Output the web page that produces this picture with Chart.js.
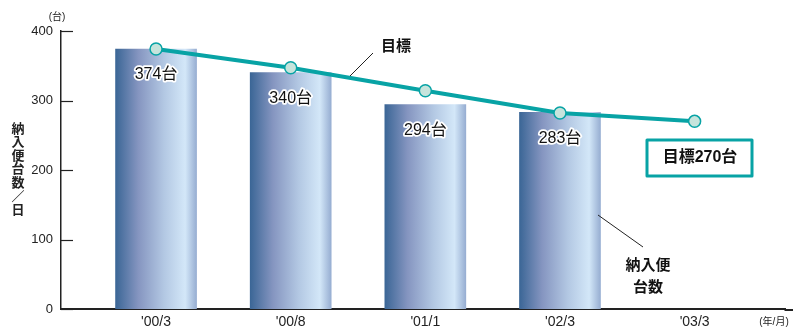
<!DOCTYPE html>
<html>
<head>
<meta charset="utf-8">
<script src="https://cdn.jsdelivr.net/npm/chart.js@4"></script>
<style>
html, body { margin: 0; padding: 0; background: #fff; }
#wrap { width: 793px; height: 335px; }
</style>
</head>
<body>
<div id="wrap"><canvas id="chart"></canvas></div>
<script>
// データ
const categories = ["'00/3", "'00/8", "'01/1", "'02/3", "'03/3"];
const actual = [374, 340, 294, 283, null];   // 納入便台数
const target = [374, 347, 314, 282, 270];    // 目標
const yTicks = [0, 100, 200, 300, 400];

const FONT = '"Liberation Sans", Arial, "Noto Sans CJK JP", sans-serif';
const TEAL = '#08a3a5';

// 棒のグラデーション
function barGradient(ctx) {
    const chart = ctx.chart;
    const xs = chart.scales.x;
    if (!xs || !ctx.raw) return '#7f98c2';
    const cx = xs.getPixelForValue(ctx.raw.x);
    if (!isFinite(cx)) return '#7f98c2';
    const g = chart.ctx.createLinearGradient(cx - 40.5, 0, cx + 40.5, 0);
    g.addColorStop(0, '#3b6696');
    g.addColorStop(0.28, '#8595c0');
    g.addColorStop(0.6, '#b3c8e3');
    g.addColorStop(0.86, '#d3e7f8');
    g.addColorStop(1, '#97aed2');
    return g;
}

// 注記など
const notes = {
    id: 'notes',
    afterDraw(chart) {
        const c = chart.ctx;
        const xs = chart.scales.x, ys = chart.scales.y;
        c.save();

        // X軸線を右端まで延長
        c.strokeStyle = '#222';
        c.lineWidth = 2;
        c.beginPath();
        c.moveTo(xs.right - 1, ys.bottom + 1);
        c.lineTo(793, ys.bottom + 1);
        c.stroke();

        // Y軸の目盛り線（内向き）
        c.lineWidth = 1.2;
        yTicks.forEach(v => {
            const y = Math.round(ys.getPixelForValue(v)) + 0.5;
            c.beginPath();
            c.moveTo(xs.left, y);
            c.lineTo(xs.left + 12, y);
            c.stroke();
        });

        c.fillStyle = '#222';
        c.textAlign = 'center';
        c.textBaseline = 'middle';

        // 単位
        c.font = '10px ' + FONT;
        c.fillText('(台)', 57, 17);
        c.fillText('(年/月)', 774, 322);

        // Y軸タイトル（縦書き）
        c.font = 'bold 13px ' + FONT;
        const title = '納入便台数／日';
        for (let i = 0; i < title.length; i++) {
            c.fillText(title[i], 18, 129 + i * 13.6);
        }

        // 棒の値ラベル
        c.font = '16px ' + FONT;
        c.lineJoin = 'round';
        actual.forEach((v, i) => {
            if (v == null) return;
            const x = xs.getPixelForValue(i);
            const y = ys.getPixelForValue(v) + 26;
            c.strokeStyle = '#fff';
            c.lineWidth = 3.5;
            c.strokeText(v + '台', x, y);
            c.fillStyle = '#111';
            c.fillText(v + '台', x, y);
        });

        // 目標の引出線
        c.strokeStyle = '#222';
        c.lineWidth = 1;
        c.beginPath();
        c.moveTo(350, 76);
        c.lineTo(373, 53);
        c.stroke();
        c.font = 'bold 15px ' + FONT;
        c.fillStyle = '#111';
        c.fillText('目標', 396, 47);

        // 納入便台数の引出線
        c.beginPath();
        c.moveTo(598, 215);
        c.lineTo(643, 247);
        c.stroke();
        c.fillText('納入便', 648, 266);
        c.fillText('台数', 648, 288);

        // 目標270台の枠
        c.strokeStyle = TEAL;
        c.lineWidth = 3;
        c.fillStyle = '#fff';
        c.fillRect(647, 140, 105, 36);
        c.strokeRect(647, 140, 105, 36);
        c.fillStyle = '#111';
        c.font = 'bold 16px ' + FONT;
        c.fillText('目標' + target[4] + '台', 700, 158);

        c.restore();
    }
};

new Chart(document.getElementById('chart'), {
    data: {
        datasets: [{
            type: 'line',
            label: '目標',
            data: target.map((v, i) => ({ x: i, y: v })),
            borderColor: TEAL,
            borderWidth: 4,
            tension: 0,
            pointRadius: 6,
            pointBackgroundColor: '#c6e4dc',
            pointBorderColor: TEAL,
            pointBorderWidth: 1.5,
            order: 0
        }, {
            type: 'bar',
            label: '納入便台数',
            data: actual.map((v, i) => (v == null ? null : { x: i, y: v })).filter(d => d),
            backgroundColor: barGradient,
            borderWidth: 0,
            barThickness: 81,
            order: 1
        }]
    },
    options: {
        responsive: true,
        maintainAspectRatio: false,
        animation: false,
        layout: { padding: { top: 31, right: 0, left: 0, bottom: 0 } },
        plugins: {
            legend: { display: false },
            tooltip: { enabled: false }
        },
        scales: {
            x: {
                type: 'linear',
                offset: false,
                min: -0.706,
                max: 4.675,
                grid: { display: false, drawTicks: false },
                border: { color: '#222', width: 2 },
                afterBuildTicks: s => { s.ticks = categories.map((c, i) => ({ value: i })); },
                ticks: {
                    autoSkip: false,
                    maxRotation: 0,
                    padding: 5,
                    color: '#222',
                    font: { family: FONT, size: 14 },
                    callback: v => categories[v]
                },
                afterFit: s => { s.height = 26; }
            },
            y: {
                min: 0,
                max: 400,
                grid: { display: false, drawTicks: false },
                border: { color: '#222', width: 1.5 },
                afterBuildTicks: s => { s.ticks = yTicks.map(v => ({ value: v })); },
                ticks: {
                    padding: 8,
                    color: '#222',
                    font: { family: FONT, size: 13 }
                },
                afterFit: s => { s.width = 61; }
            }
        }
    },
    plugins: [notes]
});
</script>
</body>
</html>
